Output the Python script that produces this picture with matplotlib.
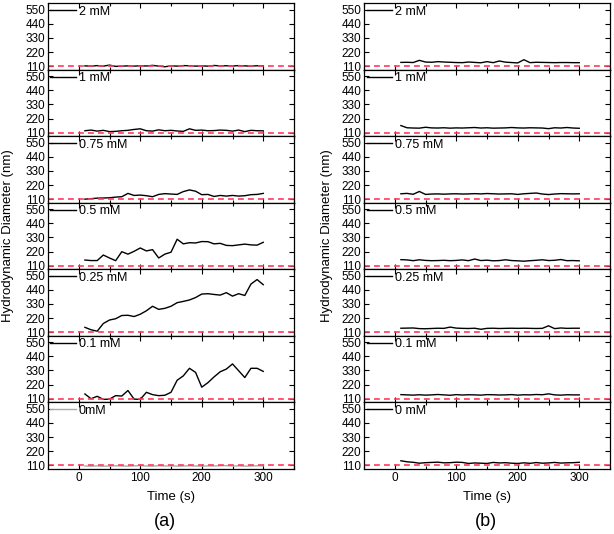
import numpy as np
import matplotlib
matplotlib.use("Agg")
import matplotlib.pyplot as plt
from matplotlib.ticker import MultipleLocator

plt.rcParams['font.family'] = ['Liberation Sans', 'DejaVu Sans']

# time points (s)
t = np.arange(10, 301, 10)

labels_a = ['2 mM', '1 mM', '0.75 mM', '0.5 mM', '0.25 mM', '0.1 mM', '0mM']
labels_b = ['2 mM', '1 mM', '0.75 mM', '0.5 mM', '0.25 mM', '0.1 mM', '0 mM']

# (a) hydrodynamic diameter (nm)
a_2mM = [112, 110, 114, 110, 118, 108, 110, 112, 110, 113, 111, 116, 110, 105, 112,
         110, 114, 113, 110, 112, 110, 115, 112, 113, 111, 114, 112, 110, 113, 112]
a_1mM = [125, 130, 122, 128, 118, 120, 125, 128, 135, 140, 125, 122, 132, 125, 128,
         123, 120, 140, 128, 130, 125, 126, 130, 128, 122, 130, 118, 128, 125, 124]
a_075mM = [110, 114, 118, 119, 121, 126, 129, 155, 139, 142, 137, 129, 147, 153, 150,
           147, 169, 182, 172, 145, 147, 131, 139, 134, 139, 134, 137, 145, 147, 155]
a_05mM = [154, 150, 150, 193, 170, 149, 219, 200, 222, 248, 225, 235, 170, 200, 215,
          316, 280, 289, 287, 298, 297, 280, 284, 268, 266, 272, 278, 272, 270, 292]
a_025mM = [148, 129, 118, 178, 205, 215, 240, 242, 232, 250, 277, 312, 288, 296, 312,
           340, 350, 361, 380, 407, 410, 404, 399, 418, 391, 410, 396, 485, 520, 480]
a_01mM = [147, 110, 129, 105, 107, 134, 131, 174, 107, 105, 160, 142, 134, 137, 160,
          254, 288, 347, 315, 200, 235, 280, 320, 341, 381, 328, 275, 347, 347, 323]
a_0mM = [104, 103, 105, 102, 104, 106, 104, 103, 105, 107, 104, 103, 106, 104, 105,
         103, 104, 106, 104, 103, 105, 104, 106, 107, 104, 105, 103, 104, 106, 105]

# (b) hydrodynamic diameter (nm)
b_2mM = [139, 140, 138, 155, 142, 140, 145, 142, 140, 138, 137, 142, 139, 136, 145,
         137, 150, 141, 138, 135, 160, 137, 140, 139, 138, 137, 138, 138, 137, 137]
b_1mM = [165, 148, 146, 145, 152, 147, 146, 148, 145, 147, 146, 148, 150, 146, 148,
         145, 146, 147, 150, 147, 146, 148, 147, 146, 141, 148, 146, 150, 146, 144]
b_075mM = [152, 155, 148, 170, 147, 150, 151, 149, 151, 152, 150, 151, 153, 151, 154,
           152, 150, 151, 152, 147, 152, 155, 158, 150, 146, 150, 153, 152, 151, 152]
b_05mM = [157, 155, 149, 156, 151, 149, 150, 152, 149, 151, 155, 149, 162, 150, 153,
          148, 150, 156, 150, 148, 145, 149, 152, 156, 150, 152, 158, 149, 150, 148]
b_025mM = [141, 142, 143, 138, 137, 139, 141, 140, 150, 142, 140, 139, 141, 133, 140,
           141, 139, 140, 141, 140, 141, 140, 139, 140, 160, 138, 143, 140, 141, 141]
b_01mM = [142, 140, 138, 141, 138, 140, 143, 140, 137, 142, 139, 141, 140, 138, 142,
          141, 139, 140, 142, 138, 141, 140, 143, 141, 148, 140, 138, 141, 140, 140]
b_0mM = [145, 137, 133, 126, 130, 132, 134, 129, 130, 134, 132, 124, 128, 126, 124,
         132, 128, 130, 126, 124, 129, 125, 131, 126, 128, 132, 127, 129, 130, 133]

series_a = [a_2mM, a_1mM, a_075mM, a_05mM, a_025mM, a_01mM, a_0mM]
series_b = [b_2mM, b_1mM, b_075mM, b_05mM, b_025mM, b_01mM, b_0mM]

ref_line = 110  # reference size (nm)

fig = plt.figure(figsize=(6.14, 5.34), dpi=100)

def make_column(left, right, series, labels, gray_last):
    n = len(series)
    top, bottom = 0.994, 0.122
    h = (top - bottom) / n
    axes = []
    for i in range(n):
        ax = fig.add_axes([left, top - (i + 1) * h, right - left, h])
        color = 'black'
        if gray_last and i == n - 1:
            color = '#aaaaaa'
        ax.plot(t, series[i], color=color, lw=1.0, label=labels[i])
        ax.axhline(ref_line, color='#ff3b5c', lw=1.2, ls=(0, (3.5, 2.5)))
        ax.set_xlim(-50, 350)
        ax.set_ylim(82, 600)
        ax.set_yticks([110, 220, 330, 440, 550])
        ax.xaxis.set_major_locator(MultipleLocator(100))
        ax.xaxis.set_minor_locator(MultipleLocator(50))
        ax.tick_params(which='both', direction='in', top=True, right=True,
                       labelsize=8.5, pad=2)
        ax.tick_params(which='major', length=3.5, width=0.8)
        ax.tick_params(which='minor', length=2, width=0.8)
        if i < n - 1:
            ax.tick_params(labelbottom=False)
        for s in ax.spines.values():
            s.set_linewidth(0.9)
        ax.legend(loc='upper left', frameon=False, fontsize=9,
                  handlelength=2.0, handletextpad=0.25,
                  borderaxespad=0.1, borderpad=0.1)
        axes.append(ax)
    axes[-1].set_xlabel('Time (s)', fontsize=9.5, labelpad=5)
    return axes

ax_a = make_column(48 / 614, 294 / 614, series_a, labels_a, True)
ax_b = make_column(364 / 614, 610 / 614, series_b, labels_b, False)

fig.text(8 / 614, 0.558, 'Hydrodynamic Diameter (nm)', rotation=90,
         ha='center', va='center', fontsize=9.5)
fig.text(327 / 614, 0.558, 'Hydrodynamic Diameter (nm)', rotation=90,
         ha='center', va='center', fontsize=9.5)

fig.text(165 / 614, 1 - 522 / 534, '(a)', ha='center', va='center', fontsize=13)
fig.text(486 / 614, 1 - 522 / 534, '(b)', ha='center', va='center', fontsize=13)

fig.savefig('out.png', dpi=100)
